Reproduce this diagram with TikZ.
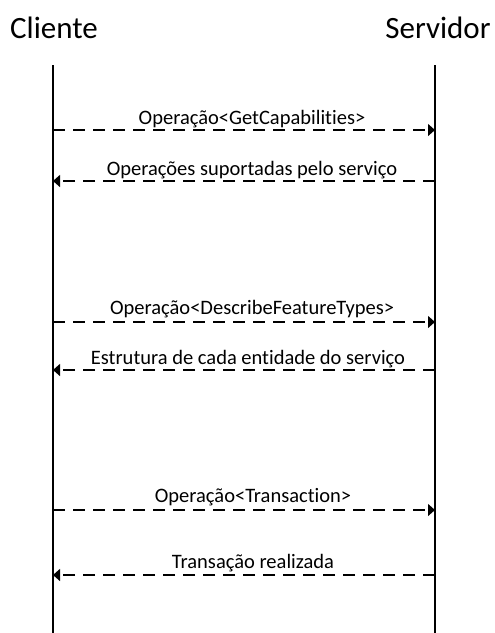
\documentclass[tikz,border=0pt]{standalone}
\usepackage{fontspec}
\setmainfont[Ligatures=NoCommon]{Carlito}
\usetikzlibrary{arrows.meta}
\begin{document}
\begin{tikzpicture}[x=1pt,y=-1pt,
  lifeline/.style={line width=1.5pt},
  msg/.style={line width=1.3pt,dash pattern=on 12pt off 8pt,-{Triangle[length=7pt,width=12pt]}},
  msglabel/.style={font=\fontsize{20.5}{23}\selectfont,inner sep=0pt,anchor=base},
  title/.style={font=\fontsize{31}{34}\selectfont,inner sep=0pt,anchor=base}]
\useasboundingbox (0,0) rectangle (495,633);
\node[title] (cli) at (54,38) {Cliente};
\node[title] (srv) at (438,38) {Servidor};
\coordinate (ct) at (53,65); \coordinate (cb) at (53,633);
\coordinate (st) at (435,65); \coordinate (sb) at (435,633);
\draw[lifeline] (ct) -- (cb);
\draw[lifeline] (st) -- (sb);
\foreach \n/\y in {a/130,b/181,c/322,d/370,e/510,f/575}{
  \coordinate (c\n) at (53,\y); \coordinate (s\n) at (435,\y);
}
\draw[msg] (ca) -- (sa);
\draw[msg] (sb) -- (cb);
\draw[msg] (cc) -- (sc);
\draw[msg] (sd) -- (cd);
\draw[msg] (ce) -- (se);
\draw[msg] (sf) -- (cf);
\node[msglabel] (la) at (252,124) {Operação<GetCapabilities>};
\node[msglabel] (lb) at (252,175) {Operações suportadas pelo serviço};
\node[msglabel] (lc) at (252,314) {Operação<DescribeFeatureTypes>};
\node[msglabel] (ld) at (248,364) {Estrutura de cada entidade do serviço};
\node[msglabel] (le) at (253,502) {Operação<Transaction>};
\node[msglabel] (lf) at (253,568) {Transação realizada};
\end{tikzpicture}
\end{document}
